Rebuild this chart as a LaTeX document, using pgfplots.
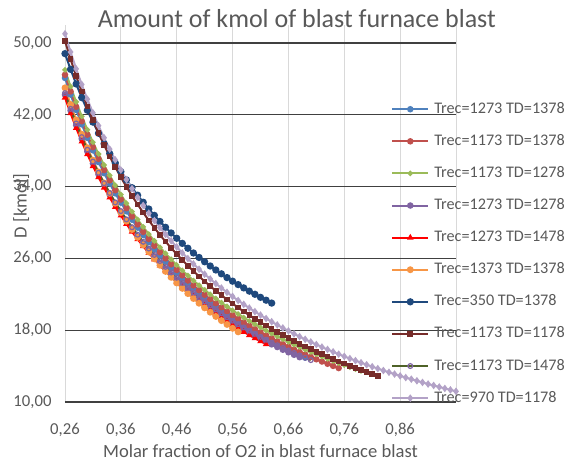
\documentclass[border=0pt]{standalone}
\usepackage{fontspec}
\setmainfont{Carlito}
\usepackage{pgfplots}
\pgfplotsset{compat=1.18}
\definecolor{cBlue}{HTML}{4F81BD}
\definecolor{cRed}{HTML}{C0504D}
\definecolor{cGreen}{HTML}{9BBB59}
\definecolor{cPurple}{HTML}{8064A2}
\definecolor{cBright}{HTML}{FF0000}
\definecolor{cOrange}{HTML}{F79646}
\definecolor{cDBlue}{HTML}{1F497D}
\definecolor{cDRed}{HTML}{772C2A}
\definecolor{cDGreen}{HTML}{4F6228}
\definecolor{cLPurple}{HTML}{B3A2C7}
\definecolor{txt}{HTML}{595959}
\begin{document}
\begin{tikzpicture}[x=1pt,y=1pt]
\path[use as bounding box] (0,0) rectangle (570,462);
\begin{axis}[
  at={(65pt,60pt)}, anchor=south west,
  scale only axis, width=391pt, height=377pt,
  xmin=0.26, xmax=0.96, ymin=10, ymax=52,
  xtick={0.26,0.36,0.46,0.56,0.66,0.76,0.86,0.96},
  xticklabels={{0,26},{0,36},{0,46},{0,56},{0,66},{0,76},{0,86},{}},
  ytick={10,18,26,34,42,50},
  yticklabels={{10,00},{18,00},{26,00},{34,00},{42,00},{50,00}},
  axis line style={draw=none},
  major tick length=0pt,
  xmajorgrids, ymajorgrids,
  x grid style={color=black!15, line width=0.8pt},
  y grid style={color=black!75, line width=1.3pt},
  tick label style={font=\fontsize{16.7}{20}\selectfont, text=txt},
  /pgf/number format/assume math mode=true,
  xticklabel style={yshift=-18pt},
  yticklabel style={xshift=-10pt},
  title={Amount of kmol of blast furnace blast},
  title style={at={(axis description cs:0.593,1.0)}, anchor=center, font=\fontsize{26}{30}\selectfont, text=txt},
  xlabel={Molar fraction of O2 in blast furnace blast},
  ylabel={D [kmol]},
  every axis x label/.style={at={(axis description cs:0.5,-0.13)}, anchor=center, font=\fontsize{18.6}{22}\selectfont, text=txt},
  every axis y label/.style={at={(axis description cs:-0.112,0.52)}, anchor=center, rotate=90, font=\fontsize{18.6}{22}\selectfont, text=txt},
  legend cell align=left,
  legend style={at={(axis description cs:0.834,0.797)}, anchor=north west, draw=none, fill=none,
    inner sep=0pt, row sep=17.1pt, column sep=5pt,
    nodes={inner sep=0pt, text height=11.5pt, text depth=3.5pt, text=txt},
    font=\fontsize{16.2}{20}\selectfont},
  legend image code/.code={\draw[mark repeat=2,mark phase=2,#1] plot coordinates {(0pt,0pt) (18pt,0pt) (36pt,0pt)};},
  every axis plot/.append style={line width=2pt},
]
% 1 Trec=1273 TD=1378
\addplot[color=cBlue, mark=*, mark size=2.2pt] coordinates {(0.26,46.10)(0.27,44.25)(0.28,42.53)(0.29,40.93)(0.30,39.43)(0.31,38.04)(0.32,36.73)(0.33,35.49)(0.34,34.34)(0.35,33.24)(0.36,32.21)(0.37,31.24)(0.38,30.31)(0.39,29.43)(0.40,28.60)(0.41,27.81)(0.42,27.05)(0.43,26.33)(0.44,25.65)(0.45,24.99)(0.46,24.36)(0.47,23.76)(0.48,23.18)(0.49,22.63)(0.50,22.10)(0.51,21.59)(0.52,21.10)(0.53,20.63)(0.54,20.17)(0.55,19.74)(0.56,19.31)(0.57,18.91)(0.58,18.51)(0.59,18.13)(0.60,17.77)(0.61,17.41)(0.62,17.07)(0.63,16.74)(0.64,16.41)(0.65,16.10)(0.66,15.80)(0.67,15.50)(0.68,15.22)(0.69,14.94)};
\addlegendentry{Trec=1273 TD=1378}
% 2 Trec=1173 TD=1378
\addplot[color=cRed, mark=*, mark size=2.2pt] coordinates {(0.26,46.45)(0.27,44.60)(0.28,42.88)(0.29,41.28)(0.30,39.78)(0.31,38.39)(0.32,37.08)(0.33,35.84)(0.34,34.69)(0.35,33.59)(0.36,32.56)(0.37,31.59)(0.38,30.66)(0.39,29.78)(0.40,28.95)(0.41,28.16)(0.42,27.40)(0.43,26.68)(0.44,26.00)(0.45,25.34)(0.46,24.71)(0.47,24.11)(0.48,23.53)(0.49,22.98)(0.50,22.45)(0.51,21.94)(0.52,21.45)(0.53,20.98)(0.54,20.52)(0.55,20.09)(0.56,19.66)(0.57,19.26)(0.58,18.86)(0.59,18.48)(0.60,18.12)(0.61,17.76)(0.62,17.42)(0.63,17.09)(0.64,16.76)(0.65,16.45)(0.66,16.15)(0.67,15.85)(0.68,15.57)(0.69,15.29)(0.70,15.02)(0.71,14.76)(0.72,14.51)(0.73,14.26)(0.74,14.02)(0.75,13.78)};
\addlegendentry{Trec=1173 TD=1378}
% 3 Trec=1173 TD=1278
\addplot[color=cGreen, mark=*, mark size=1.6pt] coordinates {(0.26,47.00)(0.27,45.15)(0.28,43.43)(0.29,41.83)(0.30,40.33)(0.31,38.94)(0.32,37.63)(0.33,36.39)(0.34,35.24)(0.35,34.14)(0.36,33.11)(0.37,32.14)(0.38,31.21)(0.39,30.33)(0.40,29.50)(0.41,28.71)(0.42,27.95)(0.43,27.23)(0.44,26.55)(0.45,25.89)(0.46,25.26)(0.47,24.66)(0.48,24.08)(0.49,23.53)(0.50,23.00)(0.51,22.49)(0.52,22.00)(0.53,21.53)(0.54,21.07)(0.55,20.64)(0.56,20.21)(0.57,19.81)(0.58,19.41)(0.59,19.03)(0.60,18.67)(0.61,18.31)(0.62,17.97)(0.63,17.64)(0.64,17.31)(0.65,17.00)(0.66,16.70)(0.67,16.40)(0.68,16.12)(0.69,15.84)(0.70,15.57)(0.71,15.31)(0.72,15.06)(0.73,14.81)(0.74,14.57)(0.75,14.33)(0.76,14.11)(0.77,13.88)(0.78,13.67)(0.79,13.46)};
\addlegendentry{Trec=1173 TD=1278}
% 4 Trec=1273 TD=1278
\addplot[color=cPurple, mark=*, mark size=2.2pt] coordinates {(0.26,44.21)(0.27,42.46)(0.28,40.83)(0.29,39.31)(0.30,37.90)(0.31,36.58)(0.32,35.34)(0.33,34.17)(0.34,33.08)(0.35,32.04)(0.36,31.07)(0.37,30.14)(0.38,29.27)(0.39,28.44)(0.40,27.65)(0.41,26.90)(0.42,26.19)(0.43,25.51)(0.44,24.86)(0.45,24.23)(0.46,23.64)(0.47,23.07)(0.48,22.53)(0.49,22.00)(0.50,21.50)(0.51,21.02)(0.52,20.55)(0.53,20.11)(0.54,19.68)(0.55,19.26)(0.56,18.86)(0.57,18.48)(0.58,18.11)(0.59,17.75)(0.60,17.40)(0.61,17.06)(0.62,16.74)(0.63,16.42)(0.64,16.12)(0.65,15.82)(0.66,15.54)(0.67,15.26)(0.68,14.99)};
\addlegendentry{Trec=1273 TD=1278}
% 5 Trec=1273 TD=1478
\addplot[color=cBright, mark=triangle*, mark size=1.8pt] coordinates {(0.26,43.91)(0.27,42.16)(0.28,40.53)(0.29,39.01)(0.30,37.60)(0.31,36.28)(0.32,35.04)(0.33,33.87)(0.34,32.78)(0.35,31.74)(0.36,30.77)(0.37,29.84)(0.38,28.97)(0.39,28.14)(0.40,27.35)(0.41,26.60)(0.42,25.89)(0.43,25.21)(0.44,24.56)(0.45,23.93)(0.46,23.34)(0.47,22.77)(0.48,22.23)(0.49,21.70)(0.50,21.20)(0.51,20.72)(0.52,20.25)(0.53,19.81)(0.54,19.38)(0.55,18.96)(0.56,18.56)(0.57,18.18)(0.58,17.81)(0.59,17.45)(0.60,17.10)(0.61,16.76)(0.62,16.44)};
\addlegendentry{Trec=1273 TD=1478}
% 6 Trec=1373 TD=1378
\addplot[color=cOrange, mark=*, mark size=2.4pt] coordinates {(0.26,45.00)(0.27,43.15)(0.28,41.43)(0.29,39.83)(0.30,38.33)(0.31,36.94)(0.32,35.63)(0.33,34.39)(0.34,33.24)(0.35,32.14)(0.36,31.11)(0.37,30.14)(0.38,29.21)(0.39,28.33)(0.40,27.50)(0.41,26.71)(0.42,25.95)(0.43,25.23)(0.44,24.55)(0.45,23.89)(0.46,23.26)(0.47,22.66)(0.48,22.08)(0.49,21.53)(0.50,21.00)(0.51,20.49)(0.52,20.00)(0.53,19.53)(0.54,19.07)(0.55,18.64)(0.56,18.21)(0.57,17.81)};
\addlegendentry{Trec=1373 TD=1378}
% 7 Trec=350 TD=1378
\addplot[color=cDBlue, mark=*, mark size=2.6pt] coordinates {(0.26,48.81)(0.27,47.06)(0.28,45.43)(0.29,43.91)(0.30,42.50)(0.31,41.18)(0.32,39.94)(0.33,38.77)(0.34,37.68)(0.35,36.64)(0.36,35.67)(0.37,34.74)(0.38,33.87)(0.39,33.04)(0.40,32.25)(0.41,31.50)(0.42,30.79)(0.43,30.11)(0.44,29.46)(0.45,28.83)(0.46,28.24)(0.47,27.67)(0.48,27.13)(0.49,26.60)(0.50,26.10)(0.51,25.62)(0.52,25.15)(0.53,24.71)(0.54,24.28)(0.55,23.86)(0.56,23.46)(0.57,23.08)(0.58,22.71)(0.59,22.35)(0.60,22.00)(0.61,21.66)(0.62,21.34)(0.63,21.02)};
\addlegendentry{Trec=350 TD=1378}
% 8 Trec=1173 TD=1178
\addplot[color=cDRed, mark=square*, mark size=1.8pt] coordinates {(0.26,50.22)(0.27,48.19)(0.28,46.31)(0.29,44.57)(0.30,42.93)(0.31,41.41)(0.32,39.98)(0.33,38.63)(0.34,37.37)(0.35,36.17)(0.36,35.04)(0.37,33.98)(0.38,32.97)(0.39,32.01)(0.40,31.10)(0.41,30.23)(0.42,29.41)(0.43,28.62)(0.44,27.87)(0.45,27.16)(0.46,26.47)(0.47,25.81)(0.48,25.18)(0.49,24.58)(0.50,24.00)(0.51,23.44)(0.52,22.91)(0.53,22.39)(0.54,21.90)(0.55,21.42)(0.56,20.96)(0.57,20.51)(0.58,20.08)(0.59,19.67)(0.60,19.27)(0.61,18.88)(0.62,18.50)(0.63,18.14)(0.64,17.79)(0.65,17.45)(0.66,17.12)(0.67,16.79)(0.68,16.48)(0.69,16.18)(0.70,15.89)(0.71,15.60)(0.72,15.32)(0.73,15.05)(0.74,14.79)(0.75,14.53)(0.76,14.28)(0.77,14.04)(0.78,13.81)(0.79,13.58)(0.80,13.35)(0.81,13.13)(0.82,12.92)};
\addlegendentry{Trec=1173 TD=1178}
% 9 Trec=1173 TD=1478
\addplot[color=cDGreen, mark=o, mark size=2.4pt, mark options={draw=cPurple, line width=1.2pt}] coordinates {(0.26,44.41)(0.27,42.66)(0.28,41.03)(0.29,39.51)(0.30,38.10)(0.31,36.78)(0.32,35.54)(0.33,34.37)(0.34,33.28)(0.35,32.24)(0.36,31.27)(0.37,30.34)(0.38,29.47)(0.39,28.64)(0.40,27.85)(0.41,27.10)(0.42,26.39)(0.43,25.71)(0.44,25.06)(0.45,24.43)(0.46,23.84)(0.47,23.27)(0.48,22.73)(0.49,22.20)(0.50,21.70)(0.51,21.22)(0.52,20.75)(0.53,20.31)(0.54,19.88)(0.55,19.46)(0.56,19.06)(0.57,18.68)(0.58,18.31)(0.59,17.95)(0.60,17.60)(0.61,17.26)(0.62,16.94)(0.63,16.62)(0.64,16.32)(0.65,16.02)(0.66,15.74)(0.67,15.46)(0.68,15.19)(0.69,14.93)(0.70,14.67)};
\addlegendentry{Trec=1173 TD=1478}
% 10 Trec=970 TD=1178
\addplot[color=cLPurple, mark=diamond*, mark size=2.2pt] coordinates {(0.26,51.02)(0.27,48.99)(0.28,47.11)(0.29,45.37)(0.30,43.73)(0.31,42.21)(0.32,40.78)(0.33,39.43)(0.34,38.17)(0.35,36.97)(0.36,35.84)(0.37,34.78)(0.38,33.77)(0.39,32.81)(0.40,31.90)(0.41,31.03)(0.42,30.21)(0.43,29.42)(0.44,28.67)(0.45,27.96)(0.46,27.27)(0.47,26.61)(0.48,25.98)(0.49,25.38)(0.50,24.80)(0.51,24.24)(0.52,23.71)(0.53,23.19)(0.54,22.70)(0.55,22.22)(0.56,21.76)(0.57,21.31)(0.58,20.88)(0.59,20.47)(0.60,20.07)(0.61,19.68)(0.62,19.30)(0.63,18.94)(0.64,18.59)(0.65,18.25)(0.66,17.92)(0.67,17.59)(0.68,17.28)(0.69,16.98)(0.70,16.69)(0.71,16.40)(0.72,16.12)(0.73,15.85)(0.74,15.59)(0.75,15.33)(0.76,15.08)(0.77,14.84)(0.78,14.61)(0.79,14.38)(0.80,14.15)(0.81,13.93)(0.82,13.72)(0.83,13.51)(0.84,13.31)(0.85,13.11)(0.86,12.91)(0.87,12.72)(0.88,12.54)(0.89,12.36)(0.90,12.18)(0.91,12.00)(0.92,11.84)(0.93,11.67)(0.94,11.51)(0.95,11.35)(0.96,11.19)};
\addlegendentry{Trec=970 TD=1178}
\end{axis}
\end{tikzpicture}
\end{document}
